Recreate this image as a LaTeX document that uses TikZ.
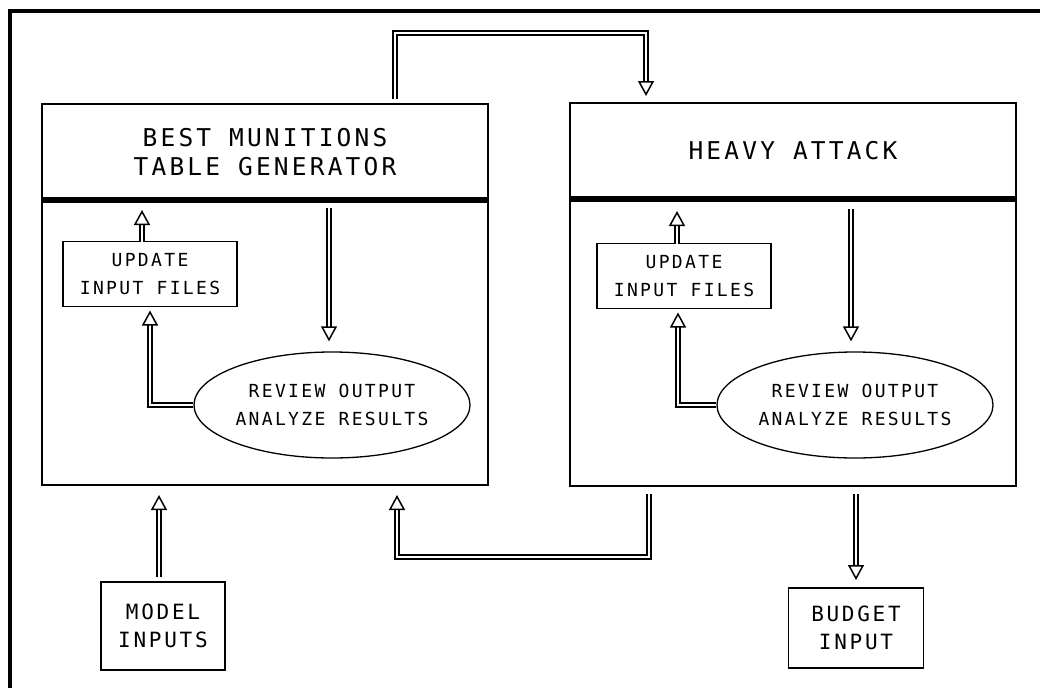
\documentclass[tikz,border=0pt]{standalone}
\usepackage{fontspec}
\newfontfamily\plotfont{DejaVu Sans Mono}[LetterSpace=13]
\usetikzlibrary{arrows.meta,positioning,shapes.geometric}

\begin{document}
\begin{tikzpicture}[x=1pt,y=-1pt,
    box node/.style={rectangle,draw,line width=1.3pt,align=center,inner sep=0pt,outer sep=0pt,
                     font=\plotfont\fontsize{18}{28}\selectfont},
    title node/.style={box node,minimum width=446pt,minimum height=96pt,
                       font=\plotfont\fontsize{24.5}{29}\selectfont},
    body node/.style={box node,minimum width=446pt,minimum height=287pt},
    update node/.style={box node,minimum width=174pt,minimum height=65pt},
    oval node/.style={ellipse,draw,line width=1.3pt,align=center,inner sep=0pt,
                      minimum width=276pt,minimum height=106pt,
                      font=\plotfont\fontsize{18}{28}\selectfont},
    input node/.style={box node,font=\plotfont\fontsize{21}{28}\selectfont},
    hollow/.style={double,double distance=2.2pt,line width=1.5pt,
                   -{Triangle[open,length=15pt,width=16pt,line width=1.5pt]}}]
  \useasboundingbox (0,0) rectangle (1040,688);
  \draw[line width=3.5pt] (10,688) -- (10,11) -- (1040,11);

  \node[title node] (1) at (265,152) {BEST MUNITIONS\\TABLE GENERATOR};
  \node[body node] (2) at (265,341.5) {};
  \node[title node] (3) at (793,151) {HEAVY ATTACK};
  \node[body node] (4) [below=0pt of 3] {};

  \node[update node] (5) at (150,274) {UPDATE\\INPUT FILES};
  \node[update node] (6) at (684,276) {UPDATE\\INPUT FILES};
  \node[oval node] (7) at (332,405) {REVIEW OUTPUT\\ANALYZE RESULTS};
  \node[oval node] (8) at (855,405) {REVIEW OUTPUT\\ANALYZE RESULTS};

  \node[input node,minimum width=124pt,minimum height=88pt] (9) at (163,626) {MODEL\\INPUTS};
  \node[input node,minimum width=135pt,minimum height=80pt] (10) at (856,628) {BUDGET\\INPUT};

  \draw[line width=5.5pt] (1.south west) -- (1.south east);
  \draw[line width=5.5pt] (3.south west) -- (3.south east);

  \coordinate (top) at (520,33);
  \coordinate (bot) at (520,557);

  \draw[hollow] ([xshift=-93pt,yshift=5pt]1.north east) |- (top)
                -| ([xshift=76pt,yshift=7pt]3.north west);
  \draw[hollow] ([xshift=79pt,yshift=-8pt]4.south west) |- (bot)
                -| ([xshift=-91pt,yshift=-10pt]2.south east);

  \draw[hollow] ([xshift=-4pt,yshift=5pt]9.north) -- ([xshift=-4pt,yshift=-10pt]9.north |- 2.south);
  \draw[hollow] ([yshift=-8pt]4.south -| 10.north) -- ([yshift=8pt]10.north);

  \draw[hollow] ([xshift=-3pt,yshift=-10pt]7.north |- 2.north) -- ([xshift=-3pt,yshift=10pt]7.north);
  \draw[hollow] ([xshift=-8pt]5.north) -- ([xshift=-8pt,yshift=-12pt]5.north |- 2.north);
  \draw[hollow] (7.west) -| ([yshift=-4pt]5.south);

  \draw[hollow] ([xshift=-4pt,yshift=-10pt]8.north |- 4.north) -- ([xshift=-4pt,yshift=10pt]8.north);
  \draw[hollow] ([xshift=-7pt]6.north) -- ([xshift=-7pt,yshift=-12pt]6.north |- 4.north);
  \draw[hollow] (8.west) -| ([xshift=-6pt,yshift=-4pt]6.south);
\end{tikzpicture}
\end{document}
